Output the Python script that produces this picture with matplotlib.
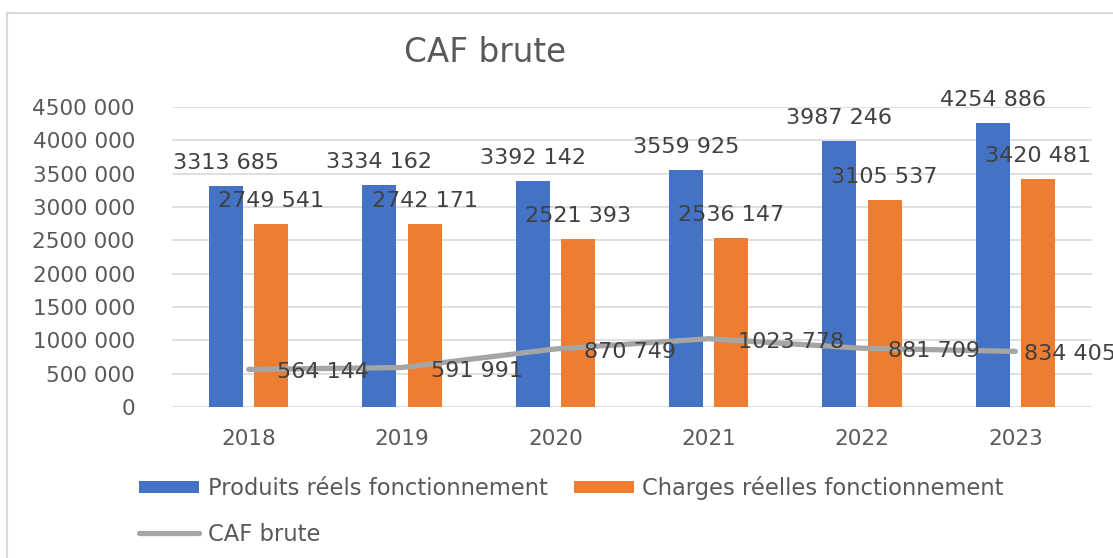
import matplotlib
matplotlib.use("Agg")
import matplotlib.pyplot as plt
from matplotlib.patches import Rectangle, Patch
from matplotlib.lines import Line2D

# ---- data ----
years = ["2018", "2019", "2020", "2021", "2022", "2023"]
produits = [3313685, 3334162, 3392142, 3559925, 3987246, 4254886]
charges = [2749541, 2742171, 2521393, 2536147, 3105537, 3420481]
caf = [564144, 591991, 870749, 1023778, 881709, 834405]
yticks = [0, 500000, 1000000, 1500000, 2000000, 2500000, 3000000, 3500000, 4000000, 4500000]
series_names = ["Produits réels fonctionnement", "Charges réelles fonctionnement", "CAF brute"]
title = "CAF brute"


def fmt(v):
    v = int(round(v))
    if v >= 1000:
        return f"{v // 1000} {v % 1000:03d}"
    return str(v)


W, H = 1113, 558
DPI = 100
fig = plt.figure(figsize=(W / DPI, H / DPI), dpi=DPI)
fig.patch.set_facecolor("white")

PX = 72.0 / DPI  # points per pixel

# chart border (clipped on right/bottom as in reference)
fig.patches.append(Rectangle((7 / W, -0.5), 2.0, 1.5 - 13 / H,
                             transform=fig.transFigure, fill=False,
                             edgecolor="#D9D9D9", lw=1.5, zorder=0))

ax = fig.add_axes([172 / W, 1 - 407 / H, (1092 - 172) / W, (407 - 107) / H])
ax.set_xlim(-0.5, len(years) - 0.5)
ax.set_ylim(0, 4500000)

BLUE, ORANGE, GREY = "#4472C4", "#ED7D31", "#A5A5A5"
TXT, TXT2 = "#404040", "#595959"

x = list(range(len(years)))
bw, off = 0.222, 0.147
ax.bar([i - off for i in x], produits, width=bw, color=BLUE, zorder=2)
ax.bar([i + off for i in x], charges, width=bw, color=ORANGE, zorder=2)
ax.plot(x, caf, color=GREY, lw=3.8,
        solid_capstyle="round", solid_joinstyle="round", zorder=3)

# grid / axes
ax.set_yticks(yticks)
ax.set_yticklabels([fmt(v) for v in yticks])
ax.yaxis.grid(True, color="#D9D9D9", lw=1.2, zorder=0)
ax.set_axisbelow(True)
for s in ax.spines.values():
    s.set_visible(False)
ax.tick_params(axis="y", length=0, pad=37 * PX, labelsize=15.5, labelcolor=TXT2)
ax.set_xticks(x)
ax.set_xticklabels(years)
ax.tick_params(axis="x", length=0, pad=22 * PX, labelsize=15.5, labelcolor=TXT2)

# data labels
for i, v in enumerate(produits):
    ax.annotate(fmt(v), (i - off, v), xytext=(0, 23 * PX), textcoords="offset points",
                ha="center", va="center", fontsize=16, color=TXT, zorder=5)
for i, v in enumerate(charges):
    ax.annotate(fmt(v), (i + off, v), xytext=(0, 23 * PX), textcoords="offset points",
                ha="center", va="center", fontsize=16, color=TXT, zorder=5)
line_dx = [28, 29, 29, 29, 26, 9]
for i, v in enumerate(caf):
    ax.annotate(fmt(v), (i, v), xytext=(line_dx[i] * PX, -3 * PX), textcoords="offset points",
                ha="left", va="center", fontsize=16, color=TXT, zorder=5,
                annotation_clip=False)

# title
fig.text(485 / W, 1 - 52 / H, title, ha="center", va="center", fontsize=23.5, color=TXT2)

# legend
handles = [Patch(facecolor=BLUE, edgecolor="none"),
           Line2D([0], [0], color=GREY, lw=3.8, solid_capstyle="round"),
           Patch(facecolor=ORANGE, edgecolor="none")]
labels = [series_names[0], series_names[2], series_names[1]]
leg = fig.legend(handles, labels, ncol=2, frameon=False,
                 loc="upper left", bbox_to_anchor=(139 / W, 1 - 476 / H),
                 prop={"size": 16.3},
                 handlelength=2.67, handleheight=0.49, handletextpad=0.36,
                 columnspacing=1.15, labelspacing=1.0, borderaxespad=0, borderpad=0)
for t in leg.get_texts():
    t.set_color(TXT2)

fig.savefig("out.png", dpi=DPI, facecolor="white")
